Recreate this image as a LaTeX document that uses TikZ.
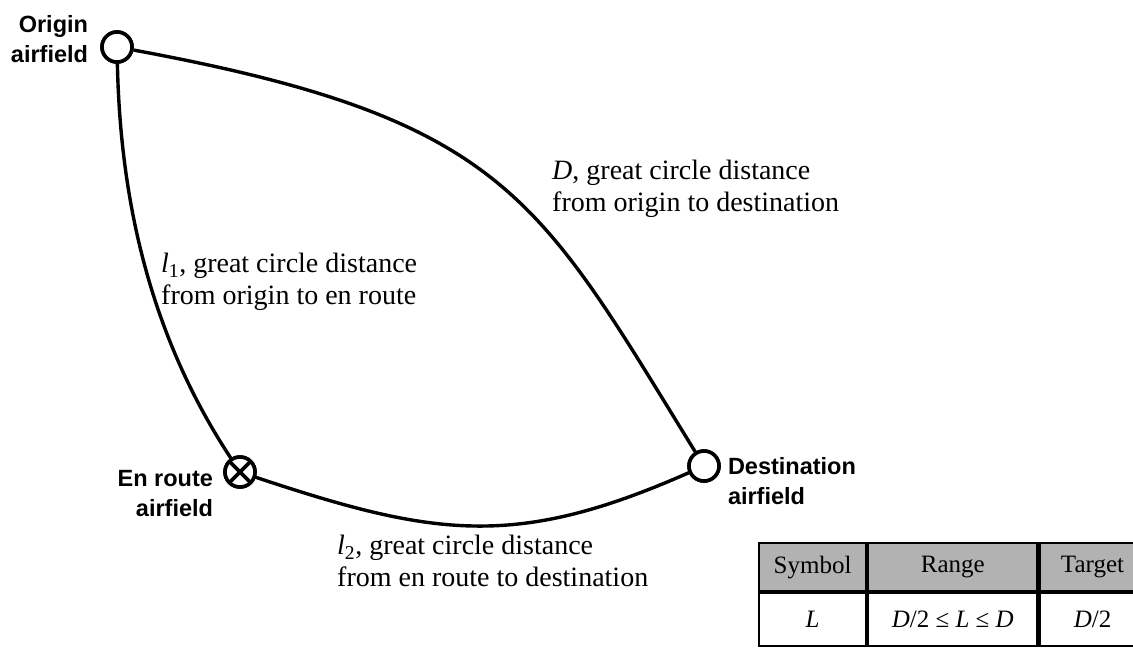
\documentclass[tikz,border=0pt]{standalone}
\usepackage{fontspec}
\setmainfont{Liberation Serif}
\newfontfamily\apfont{Liberation Sans}
\usepackage{tikz}
\usetikzlibrary{positioning}
\tikzstyle{styApt}=[circle,draw=black,line width=3.6pt,minimum size=30pt,inner sep=0pt,fill=white]
\tikzstyle{styEnr}=[styApt,path picture={
  \draw[line width=3.6pt] (path picture bounding box.north west) -- (path picture bounding box.south east);
  \draw[line width=3.6pt] (path picture bounding box.north east) -- (path picture bounding box.south west);}]
\tikzstyle{styApl}=[font=\apfont\bfseries\fontsize{23.5}{30}\selectfont,inner sep=0pt]
\tikzstyle{styDst}=[font=\fontsize{28}{31.5}\selectfont,align=left,inner sep=0pt,anchor=west]
\tikzstyle{styMat}=[inner sep=0pt,outer sep=0pt,column sep=0pt,row sep=0pt]
\tikzstyle{styCel}=[draw=black,line width=2.2pt,inner sep=0pt,outer sep=0pt,font=\fontsize{25}{30}\selectfont,minimum height=53pt]
\tikzstyle{styHdr}=[styCel,fill=black!30,minimum height=48pt]
\tikzstyle{myline}=[line width=3.4pt]

\begin{document}
\begin{tikzpicture}[x=1pt,y=-1pt]
\useasboundingbox (0,0) rectangle (1133,649);

\node[styApt] (nOrg) at (117,47) {};
\node[styEnr] (nEnr) at (240,472) {};
\node[styApt] (nDst) at (704,466) {};

\draw[myline] (nOrg) .. controls (507,119) and (538,197) .. (nDst);
\draw[myline] (nOrg) .. controls (120,183) and (143,325) .. (nEnr);
\draw[myline] (nEnr) .. controls (435,537) and (516,549) .. (nDst);
\node[styApt] at (nOrg) {};
\node[styEnr] at (nEnr) {};
\node[styApt] at (nDst) {};

\node[styApl,align=right,left=12pt of nOrg,yshift=8pt] (lOrg) {Origin\\airfield};
\node[styApl,align=right,left=10pt of nEnr,yshift=-22pt] (lEnr) {En route\\airfield};
\node[styApl,align=left,right=7pt of nDst,yshift=-15pt] (lDst) {Destination\\airfield};

\node[styDst] (dD) at (552,189) {\textit{D}, great circle distance\\from origin to destination};
\node[styDst] (dL1) at (161,282) {\textit{l}\textsubscript{1}, great circle distance\\from origin to en route};
\node[styDst] (dL2) at (337,561) {\textit{l}\textsubscript{2}, great circle distance\\from en route to destination};

\matrix(matTab)[styMat,anchor=north west] at (758,542) {
\node[styHdr,minimum width=107pt] {Symbol}; & \node[styHdr,minimum width=169pt] {Range}; & \node[styHdr,minimum width=106pt] {Target}; \\
\node[styCel,minimum width=107pt] {\textit{L}}; & \node[styCel,minimum width=169pt] {\textit{D}/2 ≤ \textit{L} ≤ \textit{D}}; & \node[styCel,minimum width=106pt] {\textit{D}/2}; \\
};

\end{tikzpicture}
\end{document}
